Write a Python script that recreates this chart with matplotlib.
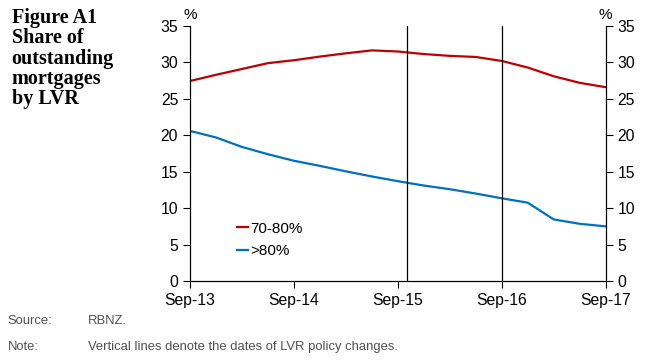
import matplotlib.pyplot as plt
import numpy as np

# quarterly data, Sep-13 .. Sep-17
quarters = ['Sep-13', 'Dec-13', 'Mar-14', 'Jun-14', 'Sep-14', 'Dec-14', 'Mar-15', 'Jun-15',
            'Sep-15', 'Dec-15', 'Mar-16', 'Jun-16', 'Sep-16', 'Dec-16', 'Mar-17', 'Jun-17', 'Sep-17']
lvr_70_80 = [27.45, 28.3, 29.1, 29.9, 30.3, 30.8, 31.25, 31.65,
             31.5, 31.15, 30.9, 30.75, 30.2, 29.3, 28.1, 27.2, 26.6]
lvr_over_80 = [20.6, 19.7, 18.4, 17.4, 16.5, 15.8, 15.05, 14.35,
               13.7, 13.1, 12.6, 12.0, 11.35, 10.75, 8.45, 7.85, 7.5]
tick_labels = ['Sep-13', 'Sep-14', 'Sep-15', 'Sep-16', 'Sep-17']
policy_changes = [8.35, 12.0]  # in quarters from Sep-13

plt.rcParams['font.family'] = ['Liberation Sans', 'DejaVu Sans']

fig = plt.figure(figsize=(6.5, 3.63), dpi=100)
ax = fig.add_axes([0.2923, 0.2259, 0.6395, 0.7025])
x = np.arange(len(quarters))

ax.plot(x, lvr_70_80, color='#C00000', lw=1.6, label='70-80%')
ax.plot(x, lvr_over_80, color='#0070C0', lw=1.6, label='>80%')
for v in policy_changes:
    ax.axvline(v, color='black', lw=0.9)

ax.set_xlim(0, 16)
ax.set_ylim(0, 35)
ax.set_xticks([0, 4, 8, 12, 16])
ax.set_xticklabels(tick_labels)
ax.set_yticks(range(0, 36, 5))
ax.spines['top'].set_visible(False)
ax.tick_params(axis='both', direction='out', length=5, labelsize=11.3, colors='black', width=0.8)
ax.tick_params(axis='x', pad=4)

ax2 = ax.twinx()
ax2.set_ylim(0, 35)
ax2.set_yticks(range(0, 36, 5))
ax2.spines['top'].set_visible(False)
ax2.tick_params(axis='y', direction='out', length=5, labelsize=11.3, width=0.8)

ax.text(0, 35.6, '%', ha='center', va='bottom', fontsize=11)
ax.text(16, 35.6, '%', ha='center', va='bottom', fontsize=11)

ax.legend(loc='lower left', bbox_to_anchor=(0.095, 0.06), frameon=False, fontsize=11,
          handlelength=0.7, handletextpad=0.15, labelspacing=0.55, borderpad=0)

fig.text(0.018, 0.978, 'Figure A1\nShare of\noutstanding\nmortgages\nby LVR', ha='left', va='top',
         fontsize=14.5, fontweight='bold', family='Liberation Serif', linespacing=1.02)

fig.text(0.012, 0.115, 'Source:', fontsize=9.4, color='#505050', va='center')
fig.text(0.135, 0.115, 'RBNZ.', fontsize=9.4, color='#505050', va='center')
fig.text(0.012, 0.043, 'Note:', fontsize=9.4, color='#505050', va='center')
fig.text(0.135, 0.043, 'Vertical lines denote the dates of LVR policy changes.', fontsize=9.4,
         color='#505050', va='center')

fig.savefig('out.png', dpi=100)
